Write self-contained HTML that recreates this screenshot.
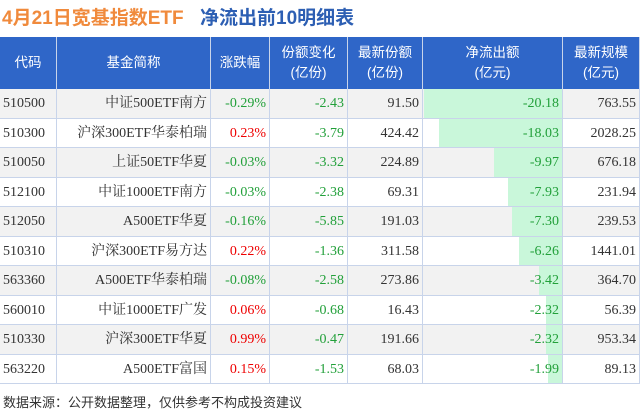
<!DOCTYPE html>
<html><head><meta charset="utf-8"><style>
body{margin:0;width:640px;height:410px;background:#fff;font-family:"Liberation Serif","Noto Serif CJK SC",serif;position:relative;overflow:hidden}
.t{position:absolute;font-family:"Liberation Sans","Noto Sans CJK SC",sans-serif;font-weight:bold;font-size:19px;top:3px}
.c{position:absolute;box-sizing:border-box;font-size:14px;line-height:29px;white-space:nowrap;padding:0 3px}
.h{background:#2f66c8;color:#fff;font-family:"Liberation Sans","Noto Sans CJK SC",sans-serif;font-size:13.5px;text-align:center;display:flex;align-items:center;justify-content:center;line-height:20px;border-right:1px solid #c8d4ea}
.ft{position:absolute;left:3px;top:392px;font-size:13px;color:#333;font-family:"Liberation Sans","Noto Sans CJK SC",sans-serif}
</style></head><body>
<div class="t" style="left:2px;color:#f08a3c">4月21日宽基指数ETF</div>
<div class="t" style="left:200px;color:#2d5fb3">净流出前10明细表</div>
<div id="tbl"></div>
<div class="ft">数据来源：公开数据整理，仅供参考不构成投资建议</div>
<script>
const codes=["510500","510300","510050","512100","512050","510310","563360","560010","510330","563220"];
const names=["中证500ETF南方","沪深300ETF华泰柏瑞","上证50ETF华夏","中证1000ETF南方","A500ETF华夏","沪深300ETF易方达","A500ETF华泰柏瑞","中证1000ETF广发","沪深300ETF华夏","A500ETF富国"];
const changes=["-0.29%","0.23%","-0.03%","-0.03%","-0.16%","0.22%","-0.08%","0.06%","0.99%","0.15%"];
const shareChg=["-2.43","-3.79","-3.32","-2.38","-5.85","-1.36","-2.58","-0.68","-0.47","-1.53"];
const shares=["91.50","424.42","224.89","69.31","191.03","311.58","273.86","16.43","191.66","68.03"];
const flows=[-20.18,-18.03,-9.97,-7.93,-7.30,-6.26,-3.42,-2.32,-2.32,-1.99];
const scale=["763.55","2028.25","676.18","231.94","239.53","1441.01","364.70","56.39","953.34","89.13"];
const heads=["代码","基金简称","涨跌幅","份额变化<br>(亿份)","最新份额<br>(亿份)","净流出额<br>(亿元)","最新规模<br>(亿元)"];
const xs=[0,57,211,270,348,423,563,640];
const tbl=document.getElementById('tbl');
const HT=37,HH=52,RH=29.5;
function mk(cls,x,y,w,h){const d=document.createElement('div');d.className=cls;d.style.left=x+'px';d.style.top=y+'px';d.style.width=w+'px';d.style.height=h+'px';tbl.appendChild(d);return d;}
heads.forEach((t,i)=>{const d=mk('c h',xs[i],HT,xs[i+1]-xs[i],HH);d.innerHTML=t;

});
const maxF=Math.max(...flows.map(Math.abs));
for(let r=0;r<codes.length;r++){
 const y=HT+HH+r*RH;
 const bg=mk('c',0,y,640,RH);bg.style.background=r%2==0?'#f2f2f2':'#fff';bg.style.borderBottom='1px solid #c8d4ea';
 
 
 const bw=(xs[6]-xs[5]-2)*Math.abs(flows[r])/maxF;
 const bar=mk('c',xs[6]-1-bw,y,bw,RH-1);bar.style.background='#c9f7da';
 
 
 const vals=[codes[r],names[r],changes[r],shareChg[r],shares[r],flows[r].toFixed(2),scale[r]];
 vals.forEach((v,i)=>{const d=mk('c',xs[i],y,xs[i+1]-xs[i],RH);d.textContent=v;d.style.textAlign=i==0?'left':'right';
  d.style.borderRight='1px solid #c8d4ea';
  let col='#333';if(i==2)col=v.startsWith('-')?'#22a03a':'#e00';if(i==3||i==5)col='#22a03a';d.style.color=col;
  
  });
}
</script>
</body></html>
